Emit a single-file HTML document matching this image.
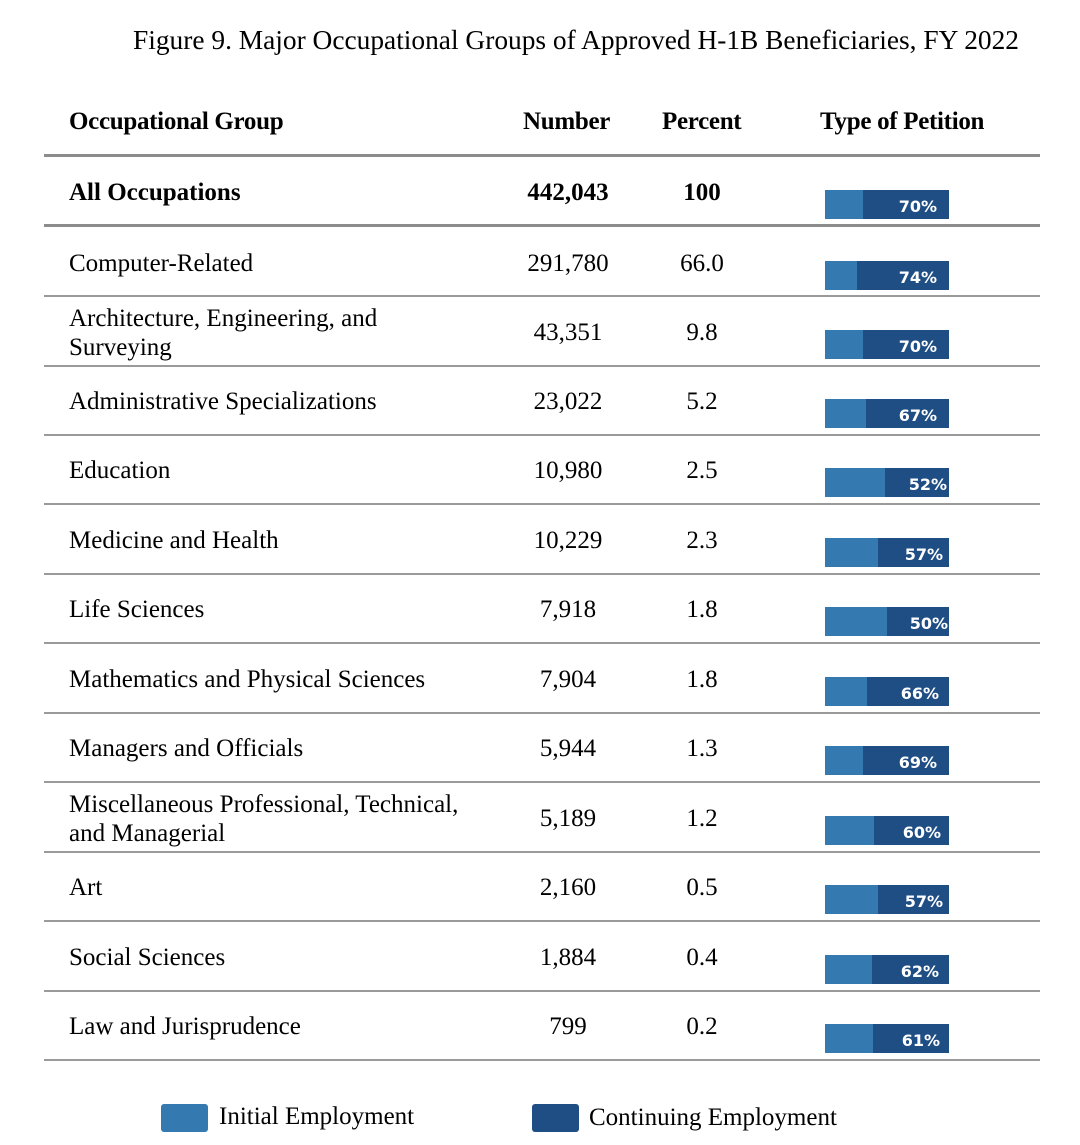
<!DOCTYPE html>
<html><head><meta charset="utf-8"><style>
body{margin:0;width:1080px;height:1145px;background:#fff;position:relative;font-family:"Liberation Serif",serif;color:#000;overflow:hidden}
.a{position:absolute;white-space:nowrap}
.t{font-size:27.4px;left:0;width:1152px;text-align:center;top:25px}
.h{font-weight:bold;font-size:25px;top:108px;letter-spacing:-0.3px}
.ln{position:absolute;left:44px;width:996px;height:2px;background:#9a9a9a}
.thick{height:3px;background:#8c8c8c}
.r{position:absolute;left:0;width:1080px;height:69px;font-size:25px}
.r .n{position:absolute;top:22px;line-height:28px}
.r .l{left:69px}
.r .num{left:508px;width:120px;text-align:center}
.r .pc{left:642px;width:120px;text-align:center}
.bar{position:absolute;left:825px;top:33px;width:124px;height:29px;background:#1f4e85}
.bar i{position:absolute;left:0;top:0;height:29px;background:#3479b0}
.bar b{position:absolute;right:12px;top:1px;line-height:31px;color:#fff;font-family:"DejaVu Sans",sans-serif;font-size:16px;font-weight:bold}
.b{font-weight:bold}
.leg{position:absolute;top:1104px;width:47px;height:28px;border-radius:3px}
</style></head><body>
<div class="a t">Figure 9. Major Occupational Groups of Approved H-1B Beneficiaries, FY 2022</div>
<div class="a h" style="left:69px">Occupational Group</div>
<div class="a h" style="left:523px">Number</div>
<div class="a h" style="left:662px">Percent</div>
<div class="a h" style="left:820px">Type of Petition</div>
<div class="ln thick" style="top:154px"></div>

<div class="r b" style="top:157px"><div class="n l">All Occupations</div><div class="n num">442,043</div><div class="n pc">100</div><div class="bar"><i style="width:38px"></i><b>70%</b></div></div>
<div class="ln thick" style="top:224px"></div>

<div class="r" style="top:228px"><div class="n l">Computer-Related</div><div class="n num">291,780</div><div class="n pc">66.0</div><div class="bar"><i style="width:32px"></i><b>74%</b></div></div>
<div class="ln" style="top:295px"></div>

<div class="r" style="top:297px"><div class="n l" style="top:7px;line-height:29px">Architecture, Engineering, and<br>Surveying</div><div class="n num">43,351</div><div class="n pc">9.8</div><div class="bar"><i style="width:38px"></i><b>70%</b></div></div>
<div class="ln" style="top:365px"></div>

<div class="r" style="top:366px"><div class="n l">Administrative Specializations</div><div class="n num">23,022</div><div class="n pc">5.2</div><div class="bar"><i style="width:41px"></i><b>67%</b></div></div>
<div class="ln" style="top:434px"></div>

<div class="r" style="top:435px"><div class="n l">Education</div><div class="n num">10,980</div><div class="n pc">2.5</div><div class="bar"><i style="width:60px"></i><b style="right:2px">52%</b></div></div>
<div class="ln" style="top:503px"></div>

<div class="r" style="top:505px"><div class="n l">Medicine and Health</div><div class="n num">10,229</div><div class="n pc">2.3</div><div class="bar"><i style="width:53px"></i><b style="right:6px">57%</b></div></div>
<div class="ln" style="top:573px"></div>

<div class="r" style="top:574px"><div class="n l">Life Sciences</div><div class="n num">7,918</div><div class="n pc">1.8</div><div class="bar"><i style="width:62px"></i><b style="right:1px">50%</b></div></div>
<div class="ln" style="top:642px"></div>

<div class="r" style="top:644px"><div class="n l">Mathematics and Physical Sciences</div><div class="n num">7,904</div><div class="n pc">1.8</div><div class="bar"><i style="width:42px"></i><b style="right:10px">66%</b></div></div>
<div class="ln" style="top:712px"></div>

<div class="r" style="top:713px"><div class="n l">Managers and Officials</div><div class="n num">5,944</div><div class="n pc">1.3</div><div class="bar"><i style="width:38px"></i><b>69%</b></div></div>
<div class="ln" style="top:781px"></div>

<div class="r" style="top:783px"><div class="n l" style="top:7px;line-height:29px">Miscellaneous Professional, Technical,<br>and Managerial</div><div class="n num">5,189</div><div class="n pc">1.2</div><div class="bar"><i style="width:49px"></i><b style="right:8px">60%</b></div></div>
<div class="ln" style="top:851px"></div>

<div class="r" style="top:852px"><div class="n l">Art</div><div class="n num">2,160</div><div class="n pc">0.5</div><div class="bar"><i style="width:53px"></i><b style="right:6px">57%</b></div></div>
<div class="ln" style="top:920px"></div>

<div class="r" style="top:922px"><div class="n l">Social Sciences</div><div class="n num">1,884</div><div class="n pc">0.4</div><div class="bar"><i style="width:47px"></i><b style="right:10px">62%</b></div></div>
<div class="ln" style="top:990px"></div>

<div class="r" style="top:991px"><div class="n l">Law and Jurisprudence</div><div class="n num">799</div><div class="n pc">0.2</div><div class="bar"><i style="width:48px"></i><b style="right:9px">61%</b></div></div>
<div class="ln" style="top:1059px"></div>

<div class="leg" style="left:161px;background:#3479b0"></div>
<div class="a" style="left:219px;top:1103px;font-size:25px">Initial Employment</div>
<div class="leg" style="left:532px;background:#1f4e85"></div>
<div class="a" style="left:589px;top:1104px;font-size:25px">Continuing Employment</div>
</body></html>
